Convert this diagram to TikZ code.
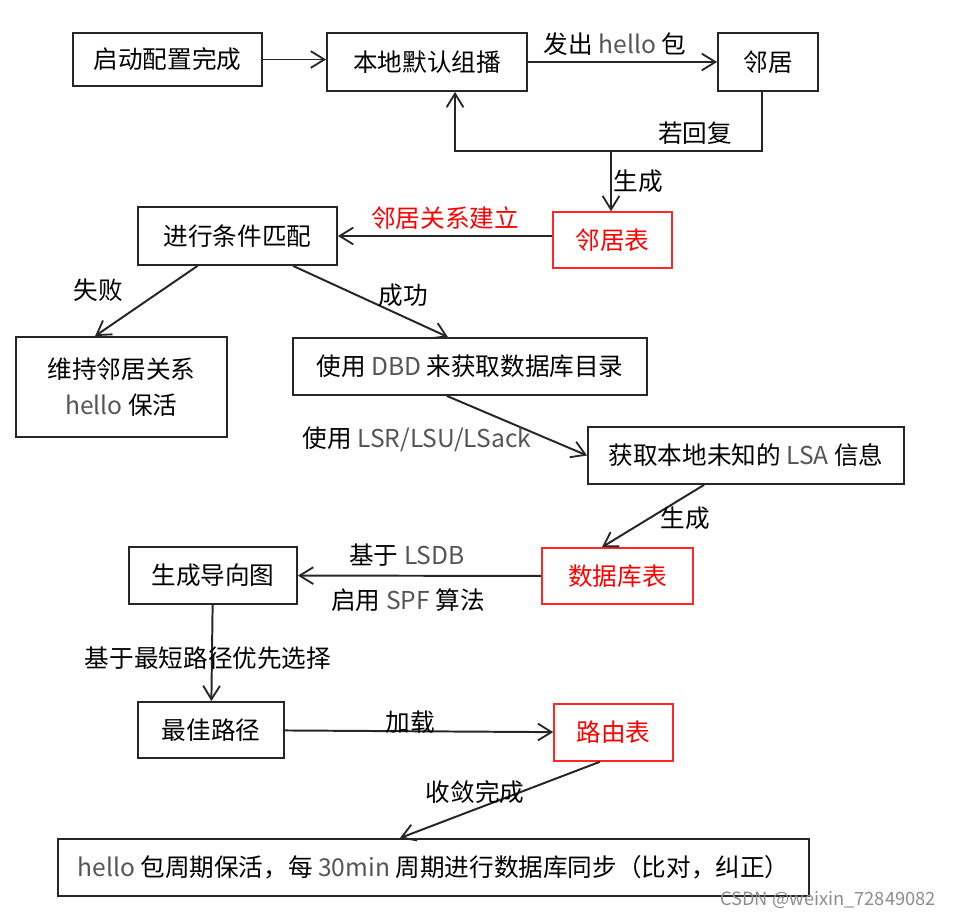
\documentclass[tikz,border=0pt]{standalone}
\usepackage{fontspec}
\setmainfont{Noto Sans CJK SC}
\usetikzlibrary{arrows.meta}
\definecolor{boxred}{RGB}{255,40,40}
\definecolor{engray}{RGB}{85,85,85}
\newcommand{\en}[1]{{\color{engray}#1}}
\tikzset{
  box/.style={draw=black!85,line width=1.3pt,inner sep=0pt,font=\fontsize{17.5}{26}\selectfont},
  redbox/.style={box,draw=boxred,line width=1.1pt,text=red},
  arr/.style={draw=black!85,line width=1.4pt,-{Straight Barb[length=3.4mm,width=4.2mm,line width=1.3pt]}},
  lbl/.style={inner sep=0pt,font=\fontsize{17.5}{22}\selectfont},
}
\begin{document}
\begin{tikzpicture}[x=0.025cm,y=-0.025cm]
    \useasboundingbox (0,0) rectangle (959,919);

    % boxes
    \node[box,minimum width=4.725cm,minimum height=1.325cm] (start) at (167.5,59.5) {启动配置完成};
    \node[box,minimum width=5cm,minimum height=1.45cm] (local) at (427,62) {本地默认组播};
    \node[box,minimum width=2.5cm,minimum height=1.45cm] (nbr) at (768,62) {邻居};
    \node[redbox,minimum width=2.975cm,minimum height=1.4cm] (nbrtab) at (612.5,240) {邻居表};
    \node[box,minimum width=4.975cm,minimum height=1.45cm] (match) at (237.5,236) {进行条件匹配};
    \node[box,minimum width=5.275cm,minimum height=2.5cm,align=center] (keep) at (121.5,387) {维持邻居关系\\\en{hello} 保活};
    \node[box,minimum width=8.85cm,minimum height=1.425cm] (dbd) at (470,366.5) {使用 \en{DBD} 来获取数据库目录};
    \node[box,minimum width=7.9cm,minimum height=1.425cm] (lsa) at (746,455.5) {获取本地未知的 \en{LSA} 信息};
    \node[redbox,minimum width=3.775cm,minimum height=1.4cm] (lsdb) at (617.5,576) {数据库表};
    \node[box,minimum width=4.2cm,minimum height=1.425cm] (graph) at (213,575.5) {生成导向图};
    \node[box,minimum width=3.65cm,minimum height=1.4cm] (best) at (211,730) {最佳路径};
    \node[redbox,minimum width=2.975cm,minimum height=1.425cm] (route) at (613.5,732.5) {路由表};
    \node[box,minimum width=18.775cm,minimum height=1.425cm] (sync) at (433.5,867.5) {\en{hello} 包周期保活，每 \en{30min} 周期进行数据库同步（比对，纠正）};

    \coordinate (fb) at (611,151);

    % connectors
    \draw[arr] (start.east) -- (start.east -| local.west);
    \draw[arr] (local) -- (nbr);
    \draw[arr] ([xshift=-0.15cm]nbr.south) |- (fb) -| ([xshift=0.7cm]local.south);
    \draw[arr] (fb) -- (fb |- nbrtab.north);
    \draw[arr] (nbrtab.west |- match.east) -- (match.east);
    \draw[arr] ([xshift=-1cm]match.south) -- ([xshift=-0.66cm]keep.north);
    \draw[arr] ([xshift=1.39cm]match.south) -- ([xshift=-0.55cm]dbd.north);
    \draw[arr] ([xshift=-0.58cm]dbd.south) -- (lsa.west);
    \draw[arr] ([xshift=-1.05cm]lsa.south) -- ([xshift=-0.39cm]lsdb.north);
    \draw[arr] (lsdb) -- (graph);
    \draw[arr] (graph) -- (best);
    \draw[arr] (best) -- (route);
    \draw[arr] ([xshift=-0.34cm]route.south) -- ([xshift=-0.84cm]sync.north);

    % labels
    \node[lbl] (l1) at (615,44) {发出 \en{hello} 包};
    \node[lbl] (l2) at (695,133) {若回复};
    \node[lbl] (l3) at (638,181) {生成};
    \node[lbl,text=red] (l4) at (445,218) {邻居关系建立};
    \node[lbl] (l5) at (98,290) {失败};
    \node[lbl] (l6) at (403,295) {成功};
    \node[lbl] (l7) at (417,439) {使用 \en{LSR/LSU/LSack}};
    \node[lbl] (l8) at (685,518) {生成};
    \node[lbl] (l9) at (407,555) {基于 \en{LSDB}};
    \node[lbl] (l10) at (408,600) {启用 \en{SPF} 算法};
    \node[lbl] (l11) at (208,658) {基于最短路径优先选择};
    \node[lbl] (l12) at (410,722) {加载};
    \node[lbl] (l13) at (475,792) {收敛完成};
    \node[inner sep=0pt,font=\fontsize{13}{15}\selectfont,text=black!45] (wm) at (828,900) {CSDN @weixin\_72849082};

\end{tikzpicture}
\end{document}
